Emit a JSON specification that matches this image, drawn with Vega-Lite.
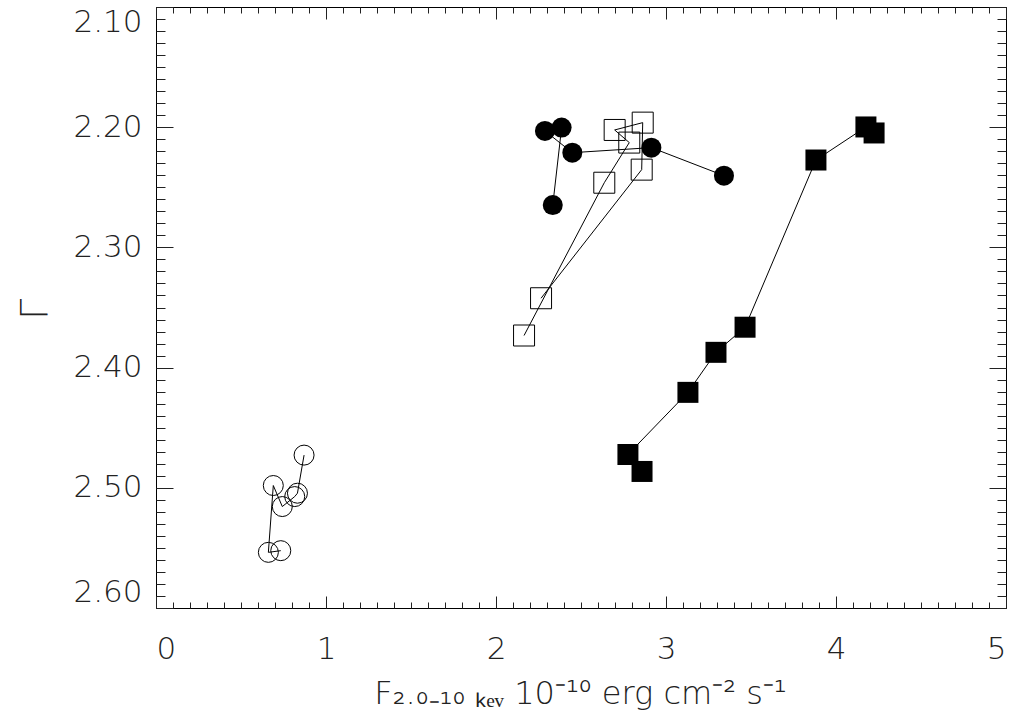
{
  "$schema": "https://vega.github.io/schema/vega-lite/v6.json",
  "width": 850,
  "height": 601,
  "autosize": "none",
  "padding": {"left": 156, "top": 7, "right": 13, "bottom": 111},
  "background": "white",
  "config": {
    "view": {"stroke": "black", "strokeWidth": 1},
    "axis": {
      "labelFont": "DejaVu Sans",
      "labelFontWeight": 200,
      "labelFontSize": 31,
      "labelColor": "#222",
      "titleFont": "DejaVu Sans",
      "titleFontWeight": 200,
      "titleFontSize": 32,
      "titleColor": "#222",
      "grid": false,
      "domain": false,
      "tickColor": "#222",
      "tickWidth": 1
    }
  },
  "data": {
    "values": [
      {"s": "oc", "i": 1, "x": 0.734, "y": 2.5523},
      {"s": "oc", "i": 2, "x": 0.661, "y": 2.5537},
      {"s": "oc", "i": 3, "x": 0.690, "y": 2.4981},
      {"s": "oc", "i": 4, "x": 0.743, "y": 2.5156},
      {"s": "oc", "i": 5, "x": 0.816, "y": 2.5073},
      {"s": "oc", "i": 6, "x": 0.832, "y": 2.5045},
      {"s": "oc", "i": 7, "x": 0.871, "y": 2.4728},
      {"s": "fc", "i": 1, "x": 2.334, "y": 2.2648},
      {"s": "fc", "i": 2, "x": 2.386, "y": 2.2003},
      {"s": "fc", "i": 3, "x": 2.288, "y": 2.2031},
      {"s": "fc", "i": 4, "x": 2.449, "y": 2.2212},
      {"s": "fc", "i": 5, "x": 2.914, "y": 2.2170},
      {"s": "fc", "i": 6, "x": 3.341, "y": 2.2403},
      {"s": "os", "i": 1, "x": 2.165, "y": 2.3733},
      {"s": "os", "i": 2, "x": 2.637, "y": 2.2462},
      {"s": "os", "i": 3, "x": 2.784, "y": 2.2128},
      {"s": "os", "i": 4, "x": 2.698, "y": 2.2023},
      {"s": "os", "i": 5, "x": 2.863, "y": 2.1962},
      {"s": "os", "i": 6, "x": 2.857, "y": 2.2353},
      {"s": "os", "i": 7, "x": 2.265, "y": 2.3423},
      {"s": "fs", "i": 1, "x": 2.859, "y": 2.4864},
      {"s": "fs", "i": 2, "x": 2.776, "y": 2.4723},
      {"s": "fs", "i": 3, "x": 3.129, "y": 2.4206},
      {"s": "fs", "i": 4, "x": 3.294, "y": 2.3873},
      {"s": "fs", "i": 5, "x": 3.465, "y": 2.3664},
      {"s": "fs", "i": 6, "x": 3.882, "y": 2.2273},
      {"s": "fs", "i": 7, "x": 4.176, "y": 2.1998},
      {"s": "fs", "i": 8, "x": 4.224, "y": 2.2048}
    ]
  },
  "resolve": {"axis": {"x": "independent", "y": "independent"}},
  "layer": [
    {
      "mark": {"type": "line", "color": "black", "strokeWidth": 1},
      "encoding": {
        "x": {"field": "x", "type": "quantitative",
          "scale": {"domain": [0, 5], "nice": false, "zero": false},
          "axis": {"orient": "bottom", "values": [0, 1, 2, 3, 4, 5], "format": "d", "ticks": false, "labelPadding": 26,
            "title": "F₂.₀₋₁₀ ₖₑᵥ 10⁻¹⁰ erg cm⁻² s⁻¹", "titleX": 424, "titleY": 95, "titleAlign": "center", "titleBaseline": "alphabetic"}},
        "y": {"field": "y", "type": "quantitative",
          "scale": {"domain": [2.1, 2.6], "reverse": true, "nice": false, "zero": false},
          "axis": {"orient": "left", "values": [2.1, 2.2, 2.3, 2.4, 2.5, 2.6], "format": ".2f", "ticks": false, "labelPadding": 14, "labelFlush": true,
            "title": "Γ", "titleX": -121, "titleY": 302, "titleAlign": "center", "titleBaseline": "middle", "titleAngle": 270, "titleFontSize": 38}},
        "detail": {"field": "s"},
        "order": {"field": "i"}
      }
    },
    {
      "mark": {"type": "point", "opacity": 0},
      "encoding": {
        "x": {"field": "x", "type": "quantitative",
          "axis": {"orient": "bottom", "values": [0, 1, 2, 3, 4, 5], "labels": false, "tickSize": -12, "title": null}},
        "y": {"field": "y", "type": "quantitative",
          "axis": {"orient": "left", "values": [2.1, 2.2, 2.3, 2.4, 2.5, 2.6], "labels": false, "tickSize": -17, "title": null}}
      }
    },
    {
      "mark": {"type": "point", "opacity": 0},
      "encoding": {
        "x": {"field": "x", "type": "quantitative",
          "axis": {"orient": "bottom", "values": [0,0.1,0.2,0.3,0.4,0.5,0.6,0.7,0.8,0.9,1,1.1,1.2,1.3,1.4,1.5,1.6,1.7,1.8,1.9,2,2.1,2.2,2.3,2.4,2.5,2.6,2.7,2.8,2.9,3,3.1,3.2,3.3,3.4,3.5,3.6,3.7,3.8,3.9,4,4.1,4.2,4.3,4.4,4.5,4.6,4.7,4.8,4.9,5], "labels": false, "tickSize": -6, "title": null}},
        "y": {"field": "y", "type": "quantitative",
          "axis": {"orient": "left", "values": [2.1,2.11,2.12,2.13,2.14,2.15,2.16,2.17,2.18,2.19,2.2,2.21,2.22,2.23,2.24,2.25,2.26,2.27,2.28,2.29,2.3,2.31,2.32,2.33,2.34,2.35,2.36,2.37,2.38,2.39,2.4,2.41,2.42,2.43,2.44,2.45,2.46,2.47,2.48,2.49,2.5,2.51,2.52,2.53,2.54,2.55,2.56,2.57,2.58,2.59,2.6], "labels": false, "tickSize": -9, "title": null}}
      }
    },
    {
      "mark": {"type": "point", "opacity": 0},
      "encoding": {
        "x": {"field": "x", "type": "quantitative",
          "axis": {"orient": "top", "values": [0, 1, 2, 3, 4, 5], "labels": false, "tickSize": -12, "title": null}},
        "y": {"field": "y", "type": "quantitative",
          "axis": {"orient": "right", "values": [2.1, 2.2, 2.3, 2.4, 2.5, 2.6], "labels": false, "tickSize": -17, "title": null}}
      }
    },
    {
      "mark": {"type": "point", "opacity": 0},
      "encoding": {
        "x": {"field": "x", "type": "quantitative",
          "axis": {"orient": "top", "values": [0,0.1,0.2,0.3,0.4,0.5,0.6,0.7,0.8,0.9,1,1.1,1.2,1.3,1.4,1.5,1.6,1.7,1.8,1.9,2,2.1,2.2,2.3,2.4,2.5,2.6,2.7,2.8,2.9,3,3.1,3.2,3.3,3.4,3.5,3.6,3.7,3.8,3.9,4,4.1,4.2,4.3,4.4,4.5,4.6,4.7,4.8,4.9,5], "labels": false, "tickSize": -6, "title": null}},
        "y": {"field": "y", "type": "quantitative",
          "axis": {"orient": "right", "values": [2.1,2.11,2.12,2.13,2.14,2.15,2.16,2.17,2.18,2.19,2.2,2.21,2.22,2.23,2.24,2.25,2.26,2.27,2.28,2.29,2.3,2.31,2.32,2.33,2.34,2.35,2.36,2.37,2.38,2.39,2.4,2.41,2.42,2.43,2.44,2.45,2.46,2.47,2.48,2.49,2.5,2.51,2.52,2.53,2.54,2.55,2.56,2.57,2.58,2.59,2.6], "labels": false, "tickSize": -9, "title": null}}
      }
    },
    {
      "transform": [{"filter": "datum.s == 'oc'"}],
      "mark": {"type": "point", "shape": "circle", "filled": false, "stroke": "black", "strokeWidth": 1, "size": 400, "opacity": 1},
      "encoding": {
        "x": {"field": "x", "type": "quantitative", "axis": null},
        "y": {"field": "y", "type": "quantitative", "axis": null}
      }
    },
    {
      "transform": [{"filter": "datum.s == 'fc'"}],
      "mark": {"type": "point", "shape": "circle", "filled": true, "color": "black", "size": 400, "opacity": 1},
      "encoding": {
        "x": {"field": "x", "type": "quantitative", "axis": null},
        "y": {"field": "y", "type": "quantitative", "axis": null}
      }
    },
    {
      "transform": [{"filter": "datum.s == 'os'"}],
      "mark": {"type": "point", "shape": "square", "filled": false, "stroke": "black", "strokeWidth": 1, "size": 441, "opacity": 1},
      "encoding": {
        "x": {"field": "x", "type": "quantitative", "axis": null},
        "y": {"field": "y", "type": "quantitative", "axis": null}
      }
    },
    {
      "transform": [{"filter": "datum.s == 'fs'"}],
      "mark": {"type": "point", "shape": "square", "filled": true, "color": "black", "size": 441, "opacity": 1},
      "encoding": {
        "x": {"field": "x", "type": "quantitative", "axis": null},
        "y": {"field": "y", "type": "quantitative", "axis": null}
      }
    }
  ]
}
